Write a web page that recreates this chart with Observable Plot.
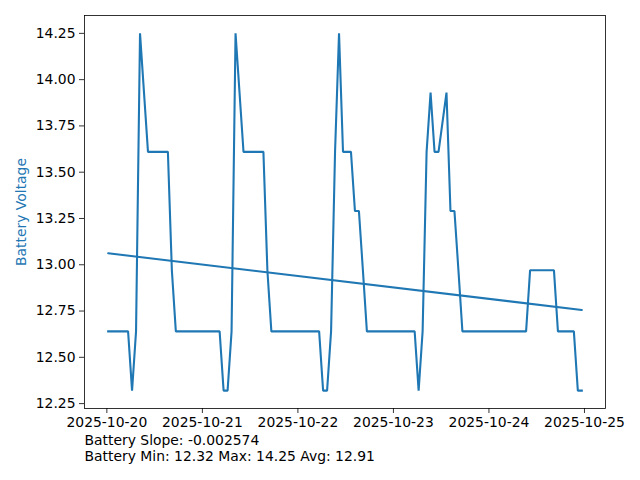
<!DOCTYPE html>
<html>
<head>
<meta charset="utf-8">
<script src="https://cdn.jsdelivr.net/npm/d3@7"></script>
<script src="https://cdn.jsdelivr.net/npm/@observablehq/plot@0.6"></script>
<style>
  html, body { margin: 0; padding: 0; background: #fff; }
  svg { display: block; }
</style>
</head>
<body>
<div id="chart"></div>
<script>
// ---- data ----
const times = [
  "2025-10-20T00:20", "2025-10-20T05:20", "2025-10-20T06:20", "2025-10-20T07:20", "2025-10-20T08:20",
  "2025-10-20T10:20", "2025-10-20T15:20", "2025-10-20T16:20", "2025-10-20T17:20",
  "2025-10-21T04:20", "2025-10-21T05:20", "2025-10-21T06:20", "2025-10-21T07:20", "2025-10-21T08:20",
  "2025-10-21T10:20", "2025-10-21T15:20", "2025-10-21T16:20", "2025-10-21T17:20",
  "2025-10-22T05:20", "2025-10-22T06:20", "2025-10-22T07:20", "2025-10-22T08:20", "2025-10-22T09:20",
  "2025-10-22T10:20", "2025-10-22T11:20", "2025-10-22T13:20", "2025-10-22T14:20", "2025-10-22T15:20",
  "2025-10-22T16:20", "2025-10-22T17:20",
  "2025-10-23T05:20", "2025-10-23T06:20", "2025-10-23T07:20", "2025-10-23T08:20", "2025-10-23T09:20",
  "2025-10-23T10:20", "2025-10-23T11:20", "2025-10-23T13:20", "2025-10-23T14:20", "2025-10-23T15:20",
  "2025-10-23T16:20", "2025-10-23T17:20",
  "2025-10-24T09:20", "2025-10-24T10:20", "2025-10-24T16:20", "2025-10-24T17:20", "2025-10-24T21:20",
  "2025-10-24T22:20", "2025-10-24T23:20"
];
const voltages = [
  12.64, 12.64, 12.32, 12.64, 14.25,
  13.61, 13.61, 12.97, 12.64,
  12.64, 12.32, 12.32, 12.64, 14.25,
  13.61, 13.61, 12.97, 12.64,
  12.64, 12.32, 12.32, 12.64, 13.61,
  14.25, 13.61, 13.61, 13.29, 13.29,
  12.97, 12.64,
  12.64, 12.32, 12.64, 13.61, 13.93,
  13.61, 13.61, 13.93, 13.29, 13.29,
  12.97, 12.64,
  12.64, 12.97, 12.97, 12.64, 12.64,
  12.32, 12.32
];
const slopePerHour = -0.002574;
const trendIntercept = 13.062;
const xTickLabels = ["2025-10-20", "2025-10-21", "2025-10-22", "2025-10-23", "2025-10-24", "2025-10-25"];
const yTickValues = [12.25, 12.50, 12.75, 13.00, 13.25, 13.50, 13.75, 14.00, 14.25];
const yLabel = "Battery Voltage";
const captionLines = [
  "Battery Slope: -0.002574",
  "Battery Min: 12.32 Max: 14.25 Avg: 12.91"
];

// ---- build ----
const parseT = d3.utcParse("%Y-%m-%dT%H:%M");
const data = times.map((t, i) => ({t: parseT(t), v: voltages[i]}));
const t0 = data[0].t, t1 = data[data.length - 1].t;
const hrs = d => (d - t0) / 3600000;
const trend = [t0, t1].map(t => ({t, v: trendIntercept + slopePerHour * hrs(t)}));

const span = t1 - t0;
const xDomain = [new Date(+t0 - span * 0.05), new Date(+t1 + span * 0.05)];
const vMin = d3.min(voltages), vMax = d3.max(voltages);
const yPad = (vMax - vMin) * 0.05;
const yDomain = [vMin - yPad, vMax + yPad];
const xTicks = xTickLabels.map(s => d3.utcParse("%Y-%m-%d")(s));

const blue = "#1f77b4";
const font = "DejaVu Sans, sans-serif";

const chart = Plot.plot({
  width: 640,
  height: 480,
  marginLeft: 84,
  marginRight: 35,
  marginTop: 15,
  marginBottom: 72,
  style: {fontFamily: font, fontSize: "13.9px", background: "#fff", color: "black", overflow: "visible"},
  x: {type: "utc", domain: xDomain},
  y: {domain: yDomain},
  marks: [
    Plot.axisX({ticks: xTicks, tickFormat: d3.utcFormat("%Y-%m-%d"), tickSize: 5, tickPadding: 4, label: null, stroke: "black", strokeWidth: 0.8, fill: "black", fontSize: 13.9}),
    Plot.axisY({ticks: yTickValues, tickFormat: d3.format(".2f"), tickSize: 5, tickPadding: 4, label: null, stroke: "black", strokeWidth: 0.8, fill: "black", fontSize: 13.9}),
    Plot.line(data, {x: "t", y: "v", stroke: blue, strokeWidth: 2.08, strokeLinejoin: "miter", strokeLinecap: "square"}),
    Plot.line(trend, {x: "t", y: "v", stroke: blue, strokeWidth: 2.08}),
    Plot.frame({stroke: "black", strokeWidth: 0.8}),
    Plot.text([yLabel], {frameAnchor: "left", text: d => d, rotate: -90, dx: -63, fill: blue, fontSize: 13.9, textAnchor: "middle"}),
    Plot.text([captionLines[0]], {frameAnchor: "bottom-left", text: d => d, dy: 36, textAnchor: "start", fill: "black", fontSize: 13.9}),
    Plot.text([captionLines[1]], {frameAnchor: "bottom-left", text: d => d, dy: 52, textAnchor: "start", fill: "black", fontSize: 13.9})
  ]
});
document.getElementById("chart").appendChild(chart);
</script>
</body>
</html>
